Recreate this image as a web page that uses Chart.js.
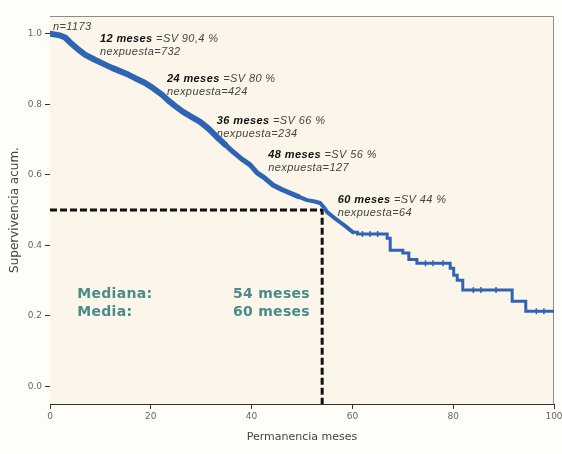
<!DOCTYPE html>
<html>
<head>
<meta charset="utf-8">
<script src="https://cdn.jsdelivr.net/npm/chart.js@4/dist/chart.umd.min.js"></script>
<style>
  html, body { margin: 0; padding: 0; background: #fefdf8; }
  #chartWrap { width: 562px; height: 454px; }
</style>
</head>
<body>
<div id="chartWrap"><canvas id="kmChart" width="562" height="454"></canvas></div>
<script>
// Kaplan-Meier: meses de permanencia vs. supervivencia acumulada
const months = [0, 2, 3, 4, 5.6, 7, 8.9, 10.5, 12.3, 14, 15.5, 17, 18.8, 20.5, 22.2, 23.5, 24.8, 26.4, 28, 29.8,
  31.5, 33.1, 34.7, 36.3, 38, 39.7, 41.1, 42.5, 44.2, 46, 47.6, 49.3, 51, 52.5, 53.6, 54.5, 55, 56.2, 57.5, 58.8,
  60.1, 61, 66.9, 67.5, 70, 71.2, 72.8, 79.4, 80.1, 80.8, 81.9, 91.7, 94.4, 100];
const survival = [1.0, 0.995, 0.989, 0.975, 0.955, 0.94, 0.926, 0.915, 0.903, 0.893, 0.884, 0.873, 0.861, 0.845, 0.827, 0.81, 0.795, 0.778, 0.765, 0.75,
  0.73, 0.707, 0.686, 0.665, 0.645, 0.628, 0.605, 0.592, 0.571, 0.558, 0.548, 0.538, 0.528, 0.524, 0.52, 0.505, 0.494, 0.48, 0.466, 0.452,
  0.437, 0.432, 0.42, 0.386, 0.378, 0.36, 0.349, 0.335, 0.315, 0.301, 0.273, 0.241, 0.213, 0.213];

// censored cases on the flat stretches
const censorMonths = [62, 63.5, 65, 74.5, 76, 78, 84, 85.5, 88.5, 96.5, 98];

const xTicks = [0, 20, 40, 60, 80, 100];
const yTicks = [0, 0.2, 0.4, 0.6, 0.8, 1.0];

const totalN = 1173;
const milestoneMonths = [12, 24, 36, 48, 60];
const milestoneSV = ['90,4', '80', '66', '56', '44'];
const milestoneN = [732, 424, 234, 127, 64];

const medianMonths = 54;
const meanMonths = 60;

// up to here the events are so dense the curve reads as a line
const denseUntil = 60.1;

// survival value holding at time t (step function)
function survivalAt(t) {
    let s = survival[0];
    for (let i = 0; i < months.length; i++) {
        if (months[i] <= t) s = survival[i];
    }
    return s;
}

const curvePoints = months.map((m, i) => ({ x: m, y: survival[i] }));
const densePoints = curvePoints.filter(p => p.x <= denseUntil);
const stepPoints = curvePoints.filter(p => p.x >= denseUntil);
const censorPoints = censorMonths.map(m => ({ x: m, y: survivalAt(m) }));
const medianPoints = [
    { x: 0, y: 0.5 },
    { x: medianMonths, y: 0.5 },
    { x: medianMonths, y: -0.05 }
];

const blue = '#2f63b3';
const teal = '#4a8b8c';

// plot area background, frame and text notes
const plotFrame = {
    id: 'plotFrame',
    beforeDatasetsDraw(chart) {
        const { ctx, chartArea: a } = chart;
        ctx.save();
        ctx.fillStyle = '#fcf5ea';
        ctx.fillRect(a.left, a.top, a.right - a.left, a.bottom - a.top);
        ctx.strokeStyle = '#8c8c8c';
        ctx.lineWidth = 1;
        ctx.beginPath();
        ctx.moveTo(a.left, a.top + 0.5);
        ctx.lineTo(a.right - 0.5, a.top + 0.5);
        ctx.lineTo(a.right - 0.5, a.bottom);
        ctx.stroke();

        const xs = chart.scales.x, ys = chart.scales.y;
        const px = v => xs.getPixelForValue(v);
        const py = v => ys.getPixelForValue(v);

        ctx.textBaseline = 'alphabetic';
        ctx.textAlign = 'left';
        ctx.letterSpacing = '0.4px';

        ctx.fillStyle = '#444';
        ctx.font = 'italic 11px "Liberation Sans"';
        ctx.fillText('n=' + totalN, px(0.6), py(1.011));

        const labelAt = [[9.9, 0.977], [23.2, 0.864], [33.1, 0.744], [43.3, 0.648], [57.1, 0.52]];
        milestoneMonths.forEach((m, i) => {
            const x = px(labelAt[i][0]);
            const y = py(labelAt[i][1]);
            ctx.font = 'italic bold 11px "Liberation Sans"';
            ctx.fillStyle = '#111';
            const head = m + ' meses';
            ctx.fillText(head, x, y);
            const w = ctx.measureText(head).width;
            ctx.font = 'italic 11px "Liberation Sans"';
            ctx.fillStyle = '#444';
            ctx.fillText(' =SV ' + milestoneSV[i] + ' %', x + w, y);
            ctx.fillText('nexpuesta=' + milestoneN[i], x, y + 13);
        });

        ctx.letterSpacing = '0.3px';
        ctx.font = 'bold 14px "DejaVu Sans"';
        ctx.fillStyle = teal;
        ctx.fillText('Mediana:', px(5.4), py(0.25));
        ctx.fillText('Media:', px(5.4), py(0.199));
        ctx.fillText(medianMonths + ' meses', px(36.3), py(0.25));
        ctx.fillText(meanMonths + ' meses', px(36.3), py(0.199));
        ctx.restore();
    }
};

const ctx = document.getElementById('kmChart').getContext('2d');

new Chart(ctx, {
    type: 'line',
    data: {
        datasets: [
            {
                label: 'Supervivencia',
                data: densePoints,
                borderColor: blue,
                borderWidth: 5,
                borderJoinStyle: 'round',
                borderCapStyle: 'round',
                pointRadius: 0,
                fill: false,
                order: 0,
                segment: {
                    borderWidth: c => {
                        const x = c.p0.parsed.x;
                        if (x < 34) return 6;
                        if (x < 48) return 5;
                        return 4;
                    }
                }
            },
            {
                label: 'Supervivencia (tramo final)',
                data: stepPoints,
                stepped: true,
                borderColor: blue,
                borderWidth: 3,
                pointRadius: 0,
                fill: false,
                order: 0
            },
            {
                label: 'Censurados',
                data: censorPoints,
                showLine: false,
                pointStyle: 'line',
                rotation: 90,
                pointRadius: 3,
                pointBorderWidth: 1.5,
                pointBorderColor: blue,
                order: 1
            },
            {
                label: 'Mediana',
                data: medianPoints,
                borderColor: '#111',
                borderWidth: 3,
                borderDash: [7, 3],
                pointRadius: 0,
                fill: false,
                order: 2
            }
        ]
    },
    options: {
        responsive: false,
        animation: false,
        layout: { padding: { top: 16, right: 0, left: 0, bottom: 0 } },
        plugins: {
            legend: { display: false },
            tooltip: { enabled: false }
        },
        scales: {
            x: {
                type: 'linear',
                min: 0,
                max: 100,
                afterBuildTicks: s => { s.ticks = xTicks.map(v => ({ value: v })); },
                afterFit: s => { s.height = 50; s.paddingRight = 8; },
                grid: { drawOnChartArea: false, drawTicks: true, tickLength: 5, color: '#333' },
                border: { display: true, color: '#333', width: 1 },
                ticks: { color: '#666', font: { family: 'DejaVu Sans', size: 9 }, padding: 2, maxRotation: 0 },
                title: {
                    display: true,
                    text: 'Permanencia meses',
                    color: '#444',
                    font: { family: 'DejaVu Sans', size: 11 },
                    padding: { top: 0, bottom: 10 }
                }
            },
            y: {
                type: 'linear',
                min: -0.05,
                max: 1.05,
                afterBuildTicks: s => { s.ticks = yTicks.map(v => ({ value: v })); },
                afterFit: s => { s.width = 50; },
                grid: { drawOnChartArea: false, drawTicks: true, tickLength: 5, color: '#333' },
                border: { display: true, color: '#333', width: 1 },
                ticks: {
                    color: '#666',
                    font: { family: 'DejaVu Sans', size: 9 },
                    padding: 3,
                    callback: v => v.toFixed(1)
                },
                title: {
                    display: true,
                    text: 'Supervivencia acum.',
                    color: '#444',
                    font: { family: 'DejaVu Sans', size: 12 },
                    padding: { top: 8, bottom: 4 }
                }
            }
        }
    },
    plugins: [plotFrame]
});
</script>
</body>
</html>
